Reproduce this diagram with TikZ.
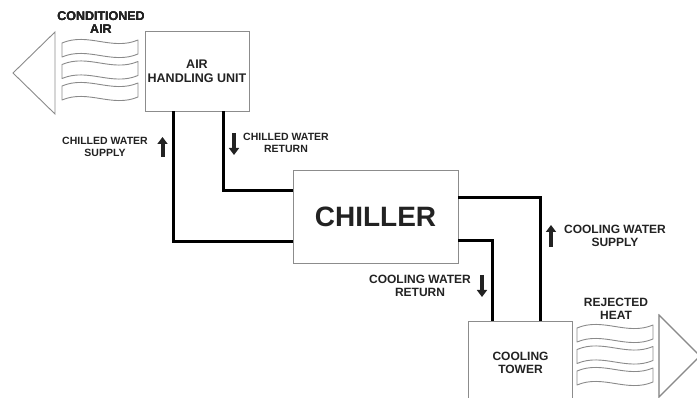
\documentclass[tikz,border=0pt]{standalone}
\usepackage{fontspec}
\setmainfont{Liberation Sans}
\usetikzlibrary{arrows.meta}
\definecolor{ink}{HTML}{222222}
\definecolor{frame}{HTML}{8C8C8C}
\definecolor{wave}{HTML}{8A8A8A}
\tikzset{
  unit/.style={draw=frame,line width=0.9pt,fill=white,align=center,inner sep=0pt,
    text=ink,font=\bfseries\fontsize{12}{13.5}\selectfont},
  tag/.style={align=center,inner sep=0pt,text=ink,font=\bfseries\fontsize{#1}{12.5}\selectfont},
  tag/.default=12,
  pipe/.style={line width=3pt,draw=black},
  flow/.style={-{Triangle[length=7pt,width=10pt]},line width=4pt,draw=ink},
  band/.style={draw=wave,line width=0.9pt,line join=round},
  chev/.style={draw=wave,line width=0.9pt},
}
% one wavy air band, #1,#2 = left end of its upper edge
\newcommand{\airband}[2]{%
  \draw[band] (#1,#2) .. controls +(26,-11) and +(-26,11) .. ++(76,-3) -- ++(0,14)
    .. controls +(-26,11) and +(26,-11) .. ++(-76,3) -- cycle;}

\begin{document}
\begin{tikzpicture}[x=1pt,y=-1pt]
    \clip (0,0) rectangle (697,398);

    % units
    \node[unit,minimum width=104pt,minimum height=80pt,
      font=\bfseries\fontsize{12.5}{14}\selectfont] (ahu) at (197,71) {AIR\\HANDLING UNIT};
    \node[unit,minimum width=165pt,minimum height=93pt,
      font=\bfseries\fontsize{28}{30}\selectfont] (chiller) at (375.5,216.5) {CHILLER};
    \node[unit,minimum width=104pt,minimum height=84pt] (tower) at (520.5,363)
      {COOLING\\TOWER};

    % air in and out
    \draw[chev] (55,32) -- (13,73) -- (55,114) -- cycle;
    \foreach \y in {43,64.5,86} \airband{62}{\y}
    \draw[chev] (659,315) -- (700,356) -- (659,397) -- cycle;
    \foreach \y in {328,349.5,371} \airband{577}{\y}
    \node[tag=12.5] (cair) at (101,22.5) {CONDITIONED\\AIR};
    \node[tag] (rheat) at (616,309) {REJECTED\\HEAT};

    % water loops
    \draw[pipe] ([xshift=-24pt]ahu.south) |- ([yshift=-25.5pt]chiller.west);
    \draw[pipe] ([xshift=26pt]ahu.south) |- ([yshift=25.5pt]chiller.west);
    \draw[pipe] ([yshift=18.5pt]chiller.east) -| ([xshift=19.5pt]tower.north);
    \draw[pipe] ([yshift=-24.5pt]chiller.east) -| ([xshift=-28.5pt]tower.north);

    \node[tag=10.5] (chs) at (105,147) {CHILLED WATER\\SUPPLY};
    \node[tag=10.5] (chr) at (286,143) {CHILLED WATER\\RETURN};
    \node[tag] (cws) at (615,236) {COOLING WATER\\SUPPLY};
    \node[tag] (cwr) at (420,286) {COOLING WATER\\RETURN};

    \draw[flow] (162.5,157) -- (162.5,137);
    \draw[flow] (234,133) -- (234,155);
    \draw[flow] (551,247) -- (551,225);
    \draw[flow] (482,275) -- (482,297);
\end{tikzpicture}
\end{document}
